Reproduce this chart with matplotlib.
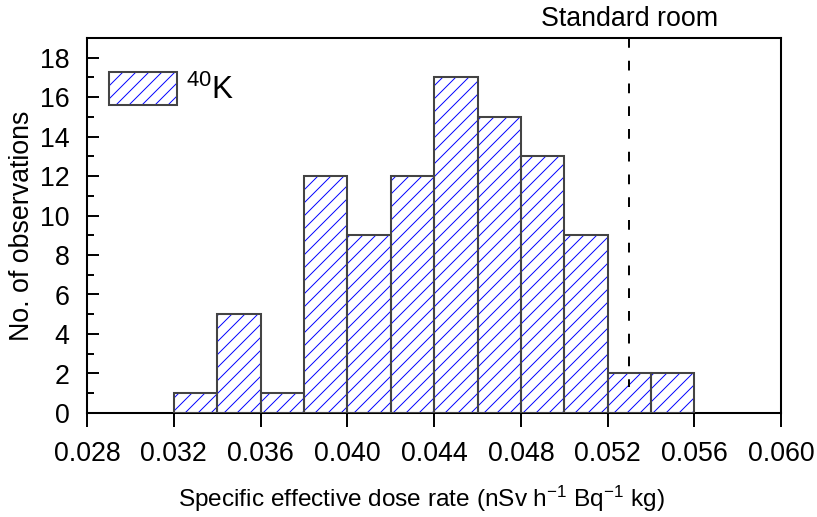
import matplotlib
matplotlib.use("Agg")
import matplotlib.pyplot as plt
from matplotlib.patches import Patch
from matplotlib.ticker import MultipleLocator
import numpy as np

# histogram of specific effective dose rate (40K)
bin_edges = [0.032, 0.034, 0.036, 0.038, 0.040, 0.042, 0.044, 0.046,
             0.048, 0.050, 0.052, 0.054, 0.056]
counts = [1, 5, 1, 12, 9, 12, 17, 15, 13, 9, 2, 2]
x_ticks = [0.028, 0.032, 0.036, 0.040, 0.044, 0.048, 0.052, 0.056, 0.060]
y_ticks = [0, 2, 4, 6, 8, 10, 12, 14, 16, 18]
standard_room = 0.053

DPI = 78
FS = 24.7
plt.rcParams['font.family'] = ['Liberation Sans', 'DejaVu Sans']
plt.rcParams['mathtext.fontset'] = 'custom'
plt.rcParams['mathtext.rm'] = 'Liberation Sans'
plt.rcParams['mathtext.default'] = 'regular'
plt.rcParams['hatch.linewidth'] = 0.9
plt.rcParams['lines.scale_dashes'] = False

fig = plt.figure(figsize=(817.2 / DPI, 517.2 / DPI), dpi=DPI)
ax = fig.add_axes([0.1065, 0.2012, 0.8495, 0.7253])

left = np.array(bin_edges[:-1])
widths = np.diff(bin_edges)
ax.bar(left, counts, width=widths, align='edge', facecolor='white',
       edgecolor='blue', hatch='//', linewidth=0, zorder=2)
ax.bar(left, counts, width=widths, align='edge', facecolor='none',
       edgecolor='#444444', linewidth=1.9, zorder=3)

ax.plot([standard_room, standard_room], [19, 1.3], color='black',
        linewidth=1.8, dashes=(9, 12), zorder=4)
ax.text(standard_room, 19.3, 'Standard room', ha='center', va='bottom',
        fontsize=FS)

ax.set_xlim(0.028, 0.060)
ax.set_ylim(0, 19)
ax.set_xticks(x_ticks)
ax.set_xticklabels(['%.3f' % v for v in x_ticks])
ax.set_yticks(y_ticks)
ax.yaxis.set_minor_locator(MultipleLocator(1))

ax.tick_params(axis='x', direction='out', length=13, width=1.8,
               labelsize=FS, pad=13)
ax.tick_params(axis='y', which='major', direction='in', length=11,
               width=1.8, labelsize=FS, pad=16)
ax.tick_params(axis='y', which='minor', direction='in', length=6,
               width=1.8)
for s in ax.spines.values():
    s.set_linewidth(1.9)

ax.set_xlabel('Specific effective dose rate (nSv h$^{-1}$ Bq$^{-1}$ kg)',
              fontsize=22.5, labelpad=15, x=0.482)
ax.set_ylabel('No. of observations', fontsize=FS, labelpad=5)

h_hatch = Patch(facecolor='white', edgecolor='blue', hatch='//', linewidth=0)
h_edge = Patch(facecolor='none', edgecolor='#444444', linewidth=1.9)
ax.legend([(h_hatch, h_edge)], ['$^{40}$K'], loc='upper left',
          bbox_to_anchor=(0.0317, 0.909), borderaxespad=0, borderpad=0,
          frameon=False, fontsize=29, handlelength=2.165, handleheight=1.24,
          handletextpad=0.27)

fig.savefig('out.png', dpi=DPI)
